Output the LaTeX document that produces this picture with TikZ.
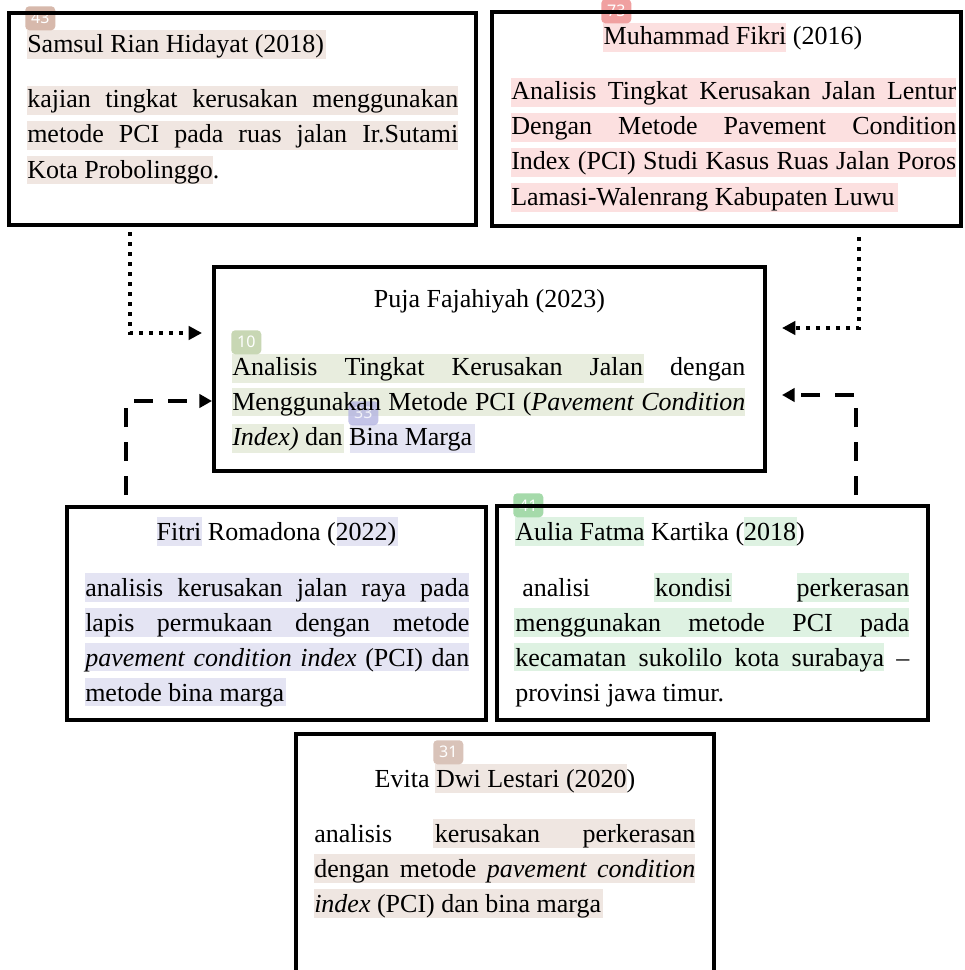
\documentclass[tikz,border=0pt]{standalone}
\usepackage{fontspec}
\setmainfont{Liberation Serif}
\newfontfamily\badgefont{Noto Sans}
\usetikzlibrary{arrows.meta,calc}
\newdimen\px \px=0.75pt
\newcommand\jl[2]{\makebox[#1\px][s]{#2}}
\newcommand\mkbox[5]{\node[box, minimum width={(#4-#2)*0.75pt}, minimum height={(#5-#3)*0.75pt}] (#1) at ({(#2+#4)/2},{(#3+#5)/2}) {};}
\newcommand\hlr[5]{\fill[#1] (#2,#3) rectangle (#4,#5);}
\definecolor{hlS}{HTML}{F0E6E1}
\definecolor{bS}{HTML}{D7B9AC}
\definecolor{hlF}{HTML}{FCE0E0}
\definecolor{bF}{HTML}{F0A0A0}
\definecolor{hlP}{HTML}{E8EDDE}
\definecolor{bP}{HTML}{C8D7B4}
\definecolor{hlV}{HTML}{E4E4F3}
\definecolor{bV}{HTML}{B4B4E1}
\definecolor{hlA}{HTML}{DEF2E2}
\definecolor{bA}{HTML}{A5DAAA}
\definecolor{hlE}{HTML}{EFE6E1}
\definecolor{bE}{HTML}{D9C3B9}
\begin{document}
\begin{tikzpicture}[x=0.75pt,y=-0.75pt,
  box/.style={draw=black, line width=3pt, inner sep=0pt},
  txt/.style={inner sep=0pt, font=\fontsize{19.5pt}{26.25pt}\selectfont, text=black},
  badge/.style={rounded corners=3pt, inner sep=0pt, anchor=north west,
     font=\badgefont\fontsize{12pt}{13pt}\selectfont, text=white,
     minimum width=22.5pt, minimum height=18pt},
  dotline/.style={line width=3pt, dash pattern=on 3pt off 4.5pt, -{Triangle[length=10pt,width=10pt]}},
  dashline/.style={line width=3pt, dash pattern=on 14.25pt off 11.25pt, -{Triangle[length=9.5pt,width=10pt]}},
]
\clip (0,0) rectangle (964,970);
\fill[white] (0,0) rectangle (964,970);

% highlights
\hlr{hlS}{27}{30}{326}{59}
\hlr{hlS}{27}{86}{458}{115}
\hlr{hlS}{27}{121}{458}{150}
\hlr{hlS}{27}{156}{213}{184}
\hlr{hlF}{603}{23}{786}{52}
\hlr{hlF}{511}{78}{956}{107}
\hlr{hlF}{511}{113}{956}{142}
\hlr{hlF}{511}{148}{956}{177}
\hlr{hlF}{511}{183}{898}{212}
\hlr{hlP}{232}{354}{644}{383}
\hlr{hlP}{232}{388}{745}{416}
\hlr{hlP}{232}{424}{344}{453}
\hlr{hlV}{350}{424}{475}{453}
\hlr{hlV}{157}{517}{202}{546}
\hlr{hlV}{337}{517}{398}{546}
\hlr{hlV}{85}{573}{469}{602}
\hlr{hlV}{85}{608}{469}{637}
\hlr{hlV}{85}{643}{469}{671}
\hlr{hlV}{85}{678}{286}{706}
\hlr{hlA}{515}{517}{644}{546}
\hlr{hlA}{744}{517}{797}{546}
\hlr{hlA}{654}{573}{732}{602}
\hlr{hlA}{797}{573}{909}{602}
\hlr{hlA}{514}{608}{909}{637}
\hlr{hlA}{514}{643}{884}{671}
\hlr{hlE}{435}{764}{627}{793}
\hlr{hlE}{433}{819}{695}{848}
\hlr{hlE}{314}{854}{695}{883}
\hlr{hlE}{314}{889}{603}{918}

% badges
\node[badge, fill=bS] (b43) at (25,6) {43};
\node[badge, fill=bF] (b73) at (601,-1) {73};
\node[badge, fill=bP] (b10) at (231,330) {10};
\node[badge, fill=bV, fill opacity=0.8, text opacity=0.8] (b33) at (348,401) {33};
\node[badge, fill=bA] (b41) at (513,493) {41};
\node[badge, fill=bE] (b31) at (433,740) {31};

% boxes
\mkbox{samsul}{9}{13}{476}{225}
\mkbox{fikri}{492}{12}{961}{226}
\mkbox{puja}{214}{267}{765}{471}
\mkbox{fitri}{67}{507}{486}{720}
\mkbox{aulia}{497}{506}{928}{720}
\mkbox{evita}{296}{734}{714}{1000}

% texts: Samsul
\node[txt, anchor=base west] (sT) at (27,53) {Samsul Rian Hidayat (2018)};
\node[txt, anchor=base west] (s1) at (27,108) {\jl{431}{kajian tingkat kerusakan menggunakan}};
\node[txt, anchor=base west] (s2) at (27,143) {\jl{431}{metode PCI pada ruas jalan Ir.Sutami}};
\node[txt, anchor=base west] (s3) at (27,178) {Kota Probolinggo.};
% Fikri
\node[txt, anchor=base] (fT) at (733,45) {Muhammad Fikri (2016)};
\node[txt, anchor=base west] (f1) at (511,100) {\jl{445}{Analisis Tingkat Kerusakan Jalan Lentur}};
\node[txt, anchor=base west] (f2) at (511,135) {\jl{445}{Dengan Metode Pavement Condition}};
\node[txt, anchor=base west] (f3) at (511,170) {\jl{445}{Index (PCI) Studi Kasus Ruas Jalan Poros}};
\node[txt, anchor=base west] (f4) at (511,205) {Lamasi-Walenrang Kabupaten Luwu};
% Puja
\node[txt, anchor=base] (pT) at (489.5,307) {Puja Fajahiyah (2023)};
\node[txt, anchor=base west] (p1) at (232,375) {\jl{513}{Analisis Tingkat Kerusakan Jalan dengan}};
\node[txt, anchor=base west] (p2) at (232,410) {\jl{513}{Menggunakan Metode PCI (\textit{Pavement Condition}}};
\node[txt, anchor=base west] (p3) at (232,445) {\textit{Index)} dan Bina Marga};
% Fitri
\node[txt, anchor=base] (rT) at (276.5,540) {Fitri Romadona (2022)};
\node[txt, anchor=base west] (r1) at (85,596) {\jl{384}{analisis kerusakan jalan raya pada}};
\node[txt, anchor=base west] (r2) at (85,631) {\jl{384}{lapis permukaan dengan metode}};
\node[txt, anchor=base west] (r3) at (85,666) {\jl{384}{\textit{pavement condition index} (PCI) dan}};
\node[txt, anchor=base west] (r4) at (85,701) {metode bina marga};
% Aulia
\node[txt, anchor=base west] (aT) at (515,540) {Aulia Fatma Kartika (2018)};
\node[txt, anchor=base west] (a1) at (515,596) {\jl{394}{\hspace*{7\px}analisi kondisi perkerasan}};
\node[txt, anchor=base west] (a2) at (515,631) {\jl{394}{menggunakan metode PCI pada}};
\node[txt, anchor=base west] (a3) at (515,666) {\jl{394}{kecamatan sukolilo kota surabaya –}};
\node[txt, anchor=base west] (a4) at (515,701) {provinsi jawa timur.};
% Evita
\node[txt, anchor=base] (eT) at (505,787) {Evita Dwi Lestari (2020)};
\node[txt, anchor=base west] (e1) at (314,842) {\jl{381}{analisis kerusakan perkerasan}};
\node[txt, anchor=base west] (e2) at (314,877) {\jl{381}{dengan metode \textit{pavement condition}}};
\node[txt, anchor=base west] (e3) at (314,912) {\textit{index} (PCI) dan bina marga};

% connectors
\draw[dotline] ($(samsul.south west)+(123,5)$) |- ($(puja.west)+(-10,-36)$);
\draw[dotline] ($(fikri.south west)+(369,9)$) |- ($(puja.east)+(15,-41)$);
\draw[dashline] ($(fitri.north west)+(61,-10)$) |- ($(puja.west)+(0,32)$);
\draw[dashline] ($(aulia.north west)+(361,-9)$) |- ($(puja.east)+(15,26)$);
\end{tikzpicture}
\end{document}
